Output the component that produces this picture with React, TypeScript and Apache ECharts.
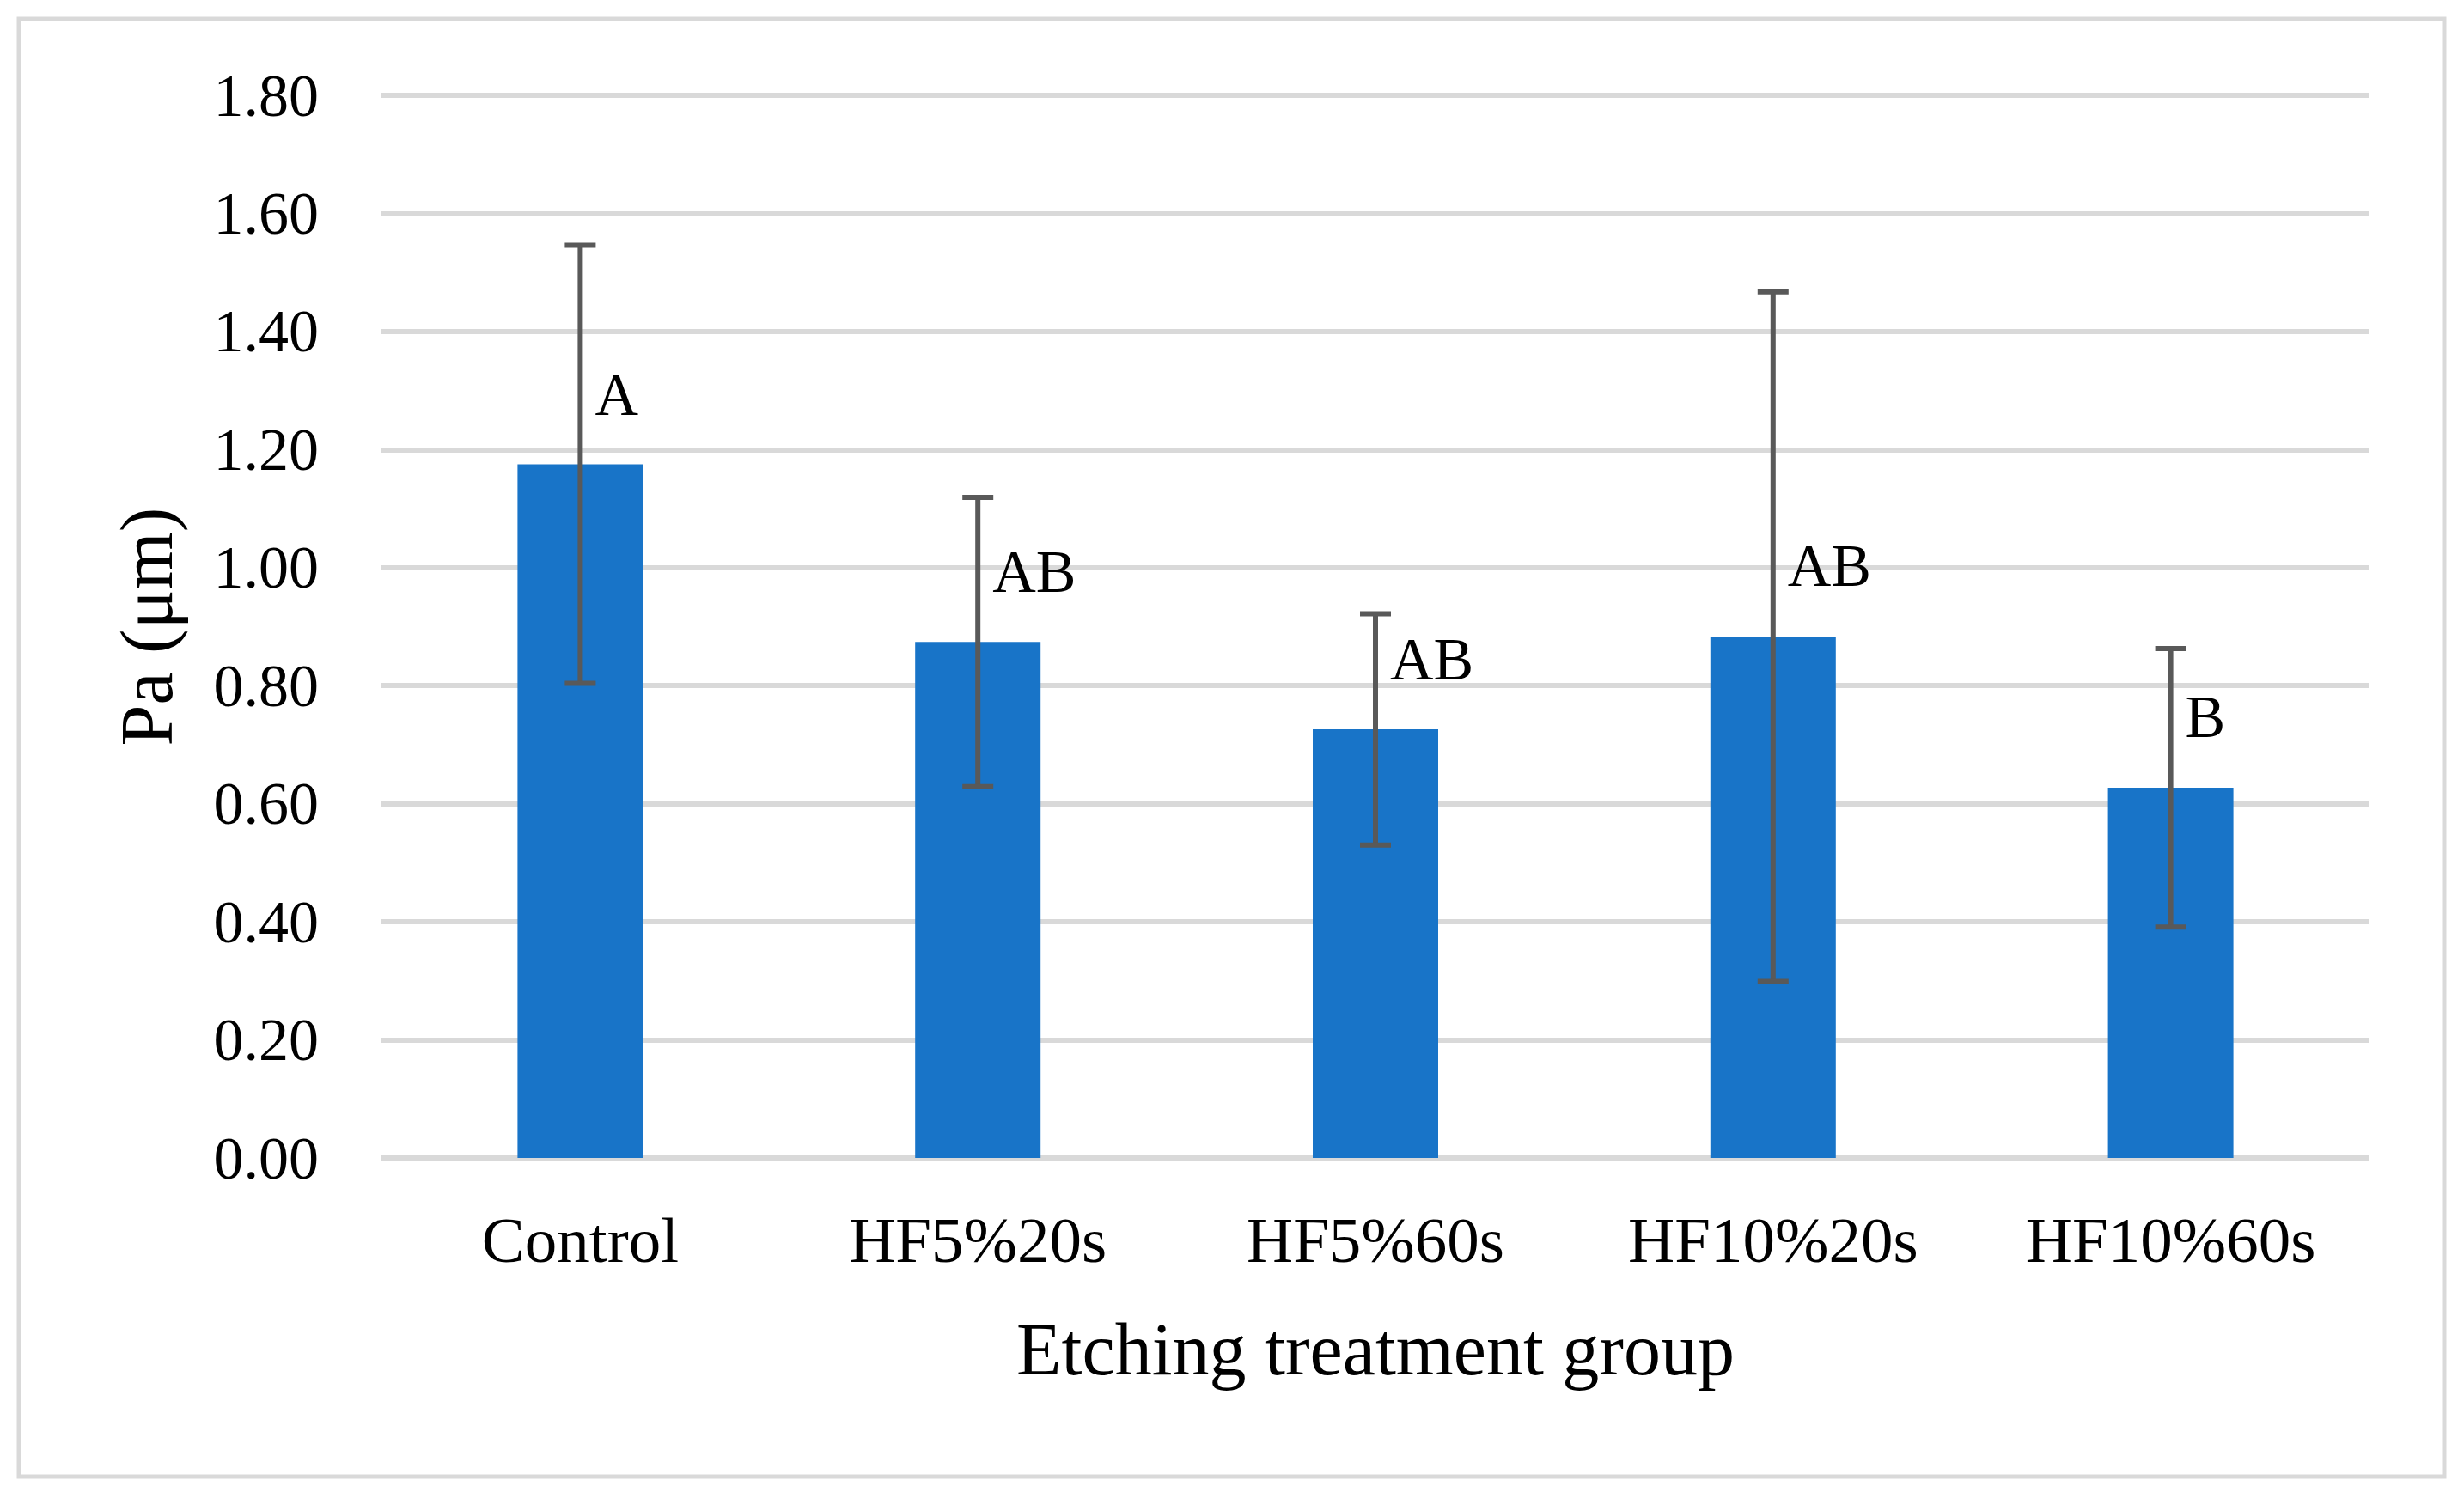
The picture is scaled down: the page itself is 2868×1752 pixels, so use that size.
import React, { useEffect, useRef } from "react";
import * as echarts from "echarts";

const categories = ["Control", "HF5%20s", "HF5%60s", "HF10%20s", "HF10%60s"];
const means = [1.175, 0.874, 0.726, 0.883, 0.627];
const sds = [0.371, 0.245, 0.196, 0.584, 0.236];
const letters = ["A", "AB", "AB", "AB", "B"];
const letterY = [1.293, 0.993, 0.845, 1.003, 0.747];
const yTicks = { min: 0, max: 1.8, interval: 0.2 };

const FONT = "'Liberation Serif', 'Times New Roman', serif";

export default function App() {
  const ref = useRef<HTMLDivElement>(null);
  useEffect(() => {
    if (!ref.current) return;
    const chart = echarts.init(ref.current, undefined, { renderer: "svg" });
    const errData = means.map((m, i) => [i, m - sds[i], m + sds[i]]);
    const letterData = letterY.map((y, i) => [i, y]);
    chart.setOption({
      animation: false,
      backgroundColor: "#ffffff",
      textStyle: { fontFamily: FONT },
      grid: { left: 444, right: 110, top: 111, bottom: 404, containLabel: false },
      graphic: [
        {
          type: "rect",
          shape: { x: 22, y: 22, width: 2823, height: 1697 },
          style: { fill: "none", stroke: "#d9d9d9", lineWidth: 5 },
          silent: true,
        },
      ],
      xAxis: {
        type: "category",
        data: categories,
        axisLine: { show: false },
        axisTick: { show: false },
        axisLabel: { color: "#000", fontSize: 75, fontFamily: FONT, margin: 58 },
        name: "Etching treatment group",
        nameLocation: "middle",
        nameGap: 180,
        nameTextStyle: { color: "#000", fontSize: 86, fontFamily: FONT },
      },
      yAxis: {
        type: "value",
        min: yTicks.min,
        max: yTicks.max,
        interval: yTicks.interval,
        axisLine: { show: false },
        axisTick: { show: false },
        splitLine: { show: true, lineStyle: { color: "#d9d9d9", width: 6 } },
        axisLabel: {
          color: "#000",
          fontSize: 70,
          fontFamily: FONT,
          margin: 73,
          formatter: (v: number) => v.toFixed(2),
        },
        name: "Pa (μm)",
        nameLocation: "middle",
        nameGap: 230,
        nameTextStyle: { color: "#000", fontSize: 86, fontFamily: FONT },
      },
      series: [
        {
          type: "bar",
          data: means,
          barWidth: 146,
          itemStyle: { color: "#1874C8" },
          z: 2,
        },
        {
          type: "custom",
          data: errData,
          encode: { x: 0, y: [1, 2] },
          z: 3,
          renderItem: (params: any, api: any) => {
            const x = api.value(0);
            const lo = api.coord([x, api.value(1)]);
            const hi = api.coord([x, api.value(2)]);
            const hw = 18;
            const st = { stroke: "#595959", lineWidth: 6 };
            return {
              type: "group",
              children: [
                { type: "line", shape: { x1: hi[0], y1: hi[1], x2: lo[0], y2: lo[1] }, style: st },
                { type: "line", shape: { x1: hi[0] - hw, y1: hi[1], x2: hi[0] + hw, y2: hi[1] }, style: st },
                { type: "line", shape: { x1: lo[0] - hw, y1: lo[1], x2: lo[0] + hw, y2: lo[1] }, style: st },
              ],
            };
          },
        },
        {
          type: "custom",
          data: letterData,
          encode: { x: 0, y: 1 },
          z: 4,
          renderItem: (params: any, api: any) => {
            const p = api.coord([api.value(0), api.value(1)]);
            return {
              type: "text",
              x: p[0] + 17,
              y: p[1],
              style: {
                text: letters[params.dataIndex],
                fill: "#000000",
                fontSize: 70,
                fontFamily: FONT,
                align: "left",
                verticalAlign: "middle",
              },
            };
          },
        },
      ],
    });
    return () => chart.dispose();
  }, []);
  return (
    <div
      ref={ref}
      style={{ position: "fixed", left: 0, top: 0, width: 2868, height: 1752, background: "#fff" }}
    />
  );
}
